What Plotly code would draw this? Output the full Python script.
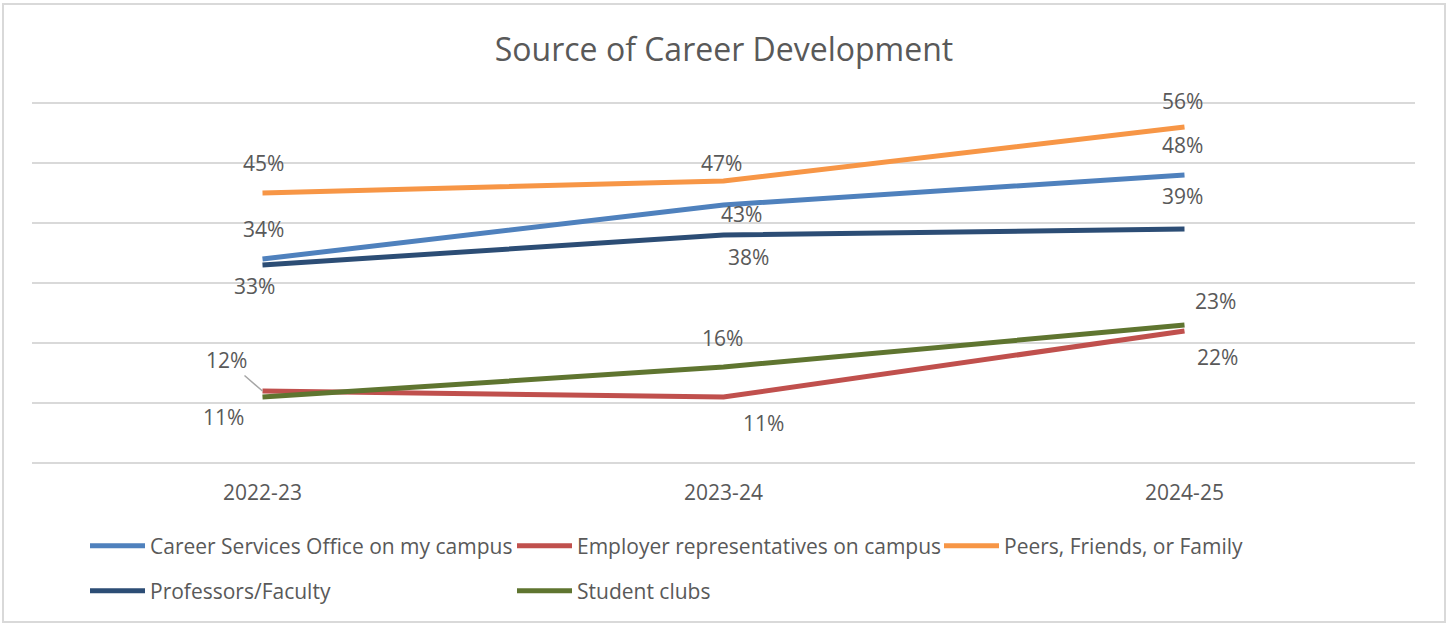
import plotly.graph_objects as go

categories = ["2022-23", "2023-24", "2024-25"]
series_names = ["Career Services Office on my campus", "Employer representatives on campus",
                "Peers, Friends, or Family", "Professors/Faculty", "Student clubs"]
career_services = [34, 43, 48]
employer_reps = [12, 11, 22]
peers = [45, 47, 56]
professors = [33, 38, 39]
student_clubs = [11, 16, 23]

colors = ["#4F81BD", "#C0504D", "#F79646", "#2C4D75", "#5F7530"]
values = [career_services, employer_reps, peers, professors, student_clubs]

# label pixel offsets (xshift, yshift) per series/point
label_shifts = [
    [(1, 30), (18, -9), (-2, 30)],
    [None, (40, -26), (33, -26)],
    [(1, 30), (-2, 18), (-2, 26)],
    [(-8, -21), (25, -22), (-2, 33)],
    [(-39, -20), (-1, 29), (31, 24)],
]

FONT = "Open Sans"
GRAY = "#595959"

fig = go.Figure()
for i, (name, vals) in enumerate(zip(series_names, values)):
    fig.add_trace(go.Scatter(
        x=categories, y=vals, name=name, mode="lines",
        line=dict(color=colors[i], width=5),
        legend="legend" if i < 3 else "legend2",
        hoverinfo="skip",
    ))

for i, vals in enumerate(values):
    for j, v in enumerate(vals):
        sh = label_shifts[i][j]
        if sh is None:
            fig.add_annotation(x=categories[j], y=v, text=f"{v}%", showarrow=True,
                               arrowhead=0, arrowwidth=1.5, arrowcolor="#A6A6A6",
                               ax=-36, ay=-31, standoff=0,
                               font=dict(family=FONT, size=21, color=GRAY))
        else:
            fig.add_annotation(x=categories[j], y=v, text=f"{v}%", showarrow=False,
                               xshift=sh[0], yshift=sh[1],
                               font=dict(family=FONT, size=21, color=GRAY))

L, R, T, B = 32, 33, 97, 163
W, H = 1448, 626
pw, ph = W - L - R, H - T - B

def px(x):
    return (x - L) / pw

def py(y):
    return (H - B - y) / ph

fig.add_shape(type="rect", xref="paper", yref="paper",
              x0=px(3), x1=px(1445), y0=py(622), y1=py(4),
              line=dict(color="#D9D9D9", width=2), fillcolor="rgba(0,0,0,0)", layer="below")

legend_common = dict(orientation="h", xanchor="left", yanchor="middle",
                     entrywidth=357, entrywidthmode="pixels", itemwidth=55,
                     font=dict(family=FONT, size=21, color=GRAY), bgcolor="rgba(0,0,0,0)")

fig.update_layout(
    width=W, height=H,
    margin=dict(l=L, r=R, t=T, b=B),
    paper_bgcolor="white", plot_bgcolor="white",
    title=dict(text="Source of Career Development", x=0.5, xanchor="center",
               y=(H - 50) / H, yanchor="middle",
               font=dict(family=FONT, size=32, color=GRAY)),
    font=dict(family=FONT, color=GRAY),
    xaxis=dict(range=[-0.5, 2.5], showgrid=False, zeroline=False, showline=False,
               ticks="", tickfont=dict(family=FONT, size=21, color=GRAY),
               ticklabelstandoff=15),
    yaxis=dict(range=[0, 61], dtick=10, showticklabels=False, showgrid=True,
               gridcolor="#D9D9D9", gridwidth=2, zeroline=True, zerolinecolor="#D9D9D9",
               zerolinewidth=2, showline=False),
    showlegend=True,
    legend=dict(x=px(85), y=py(546), **legend_common),
    legend2=dict(x=px(85), y=py(591), **legend_common),
)

fig.write_html("out.html", config={"displayModeBar": False},
               post_script="document.body.style.margin='0px';")
